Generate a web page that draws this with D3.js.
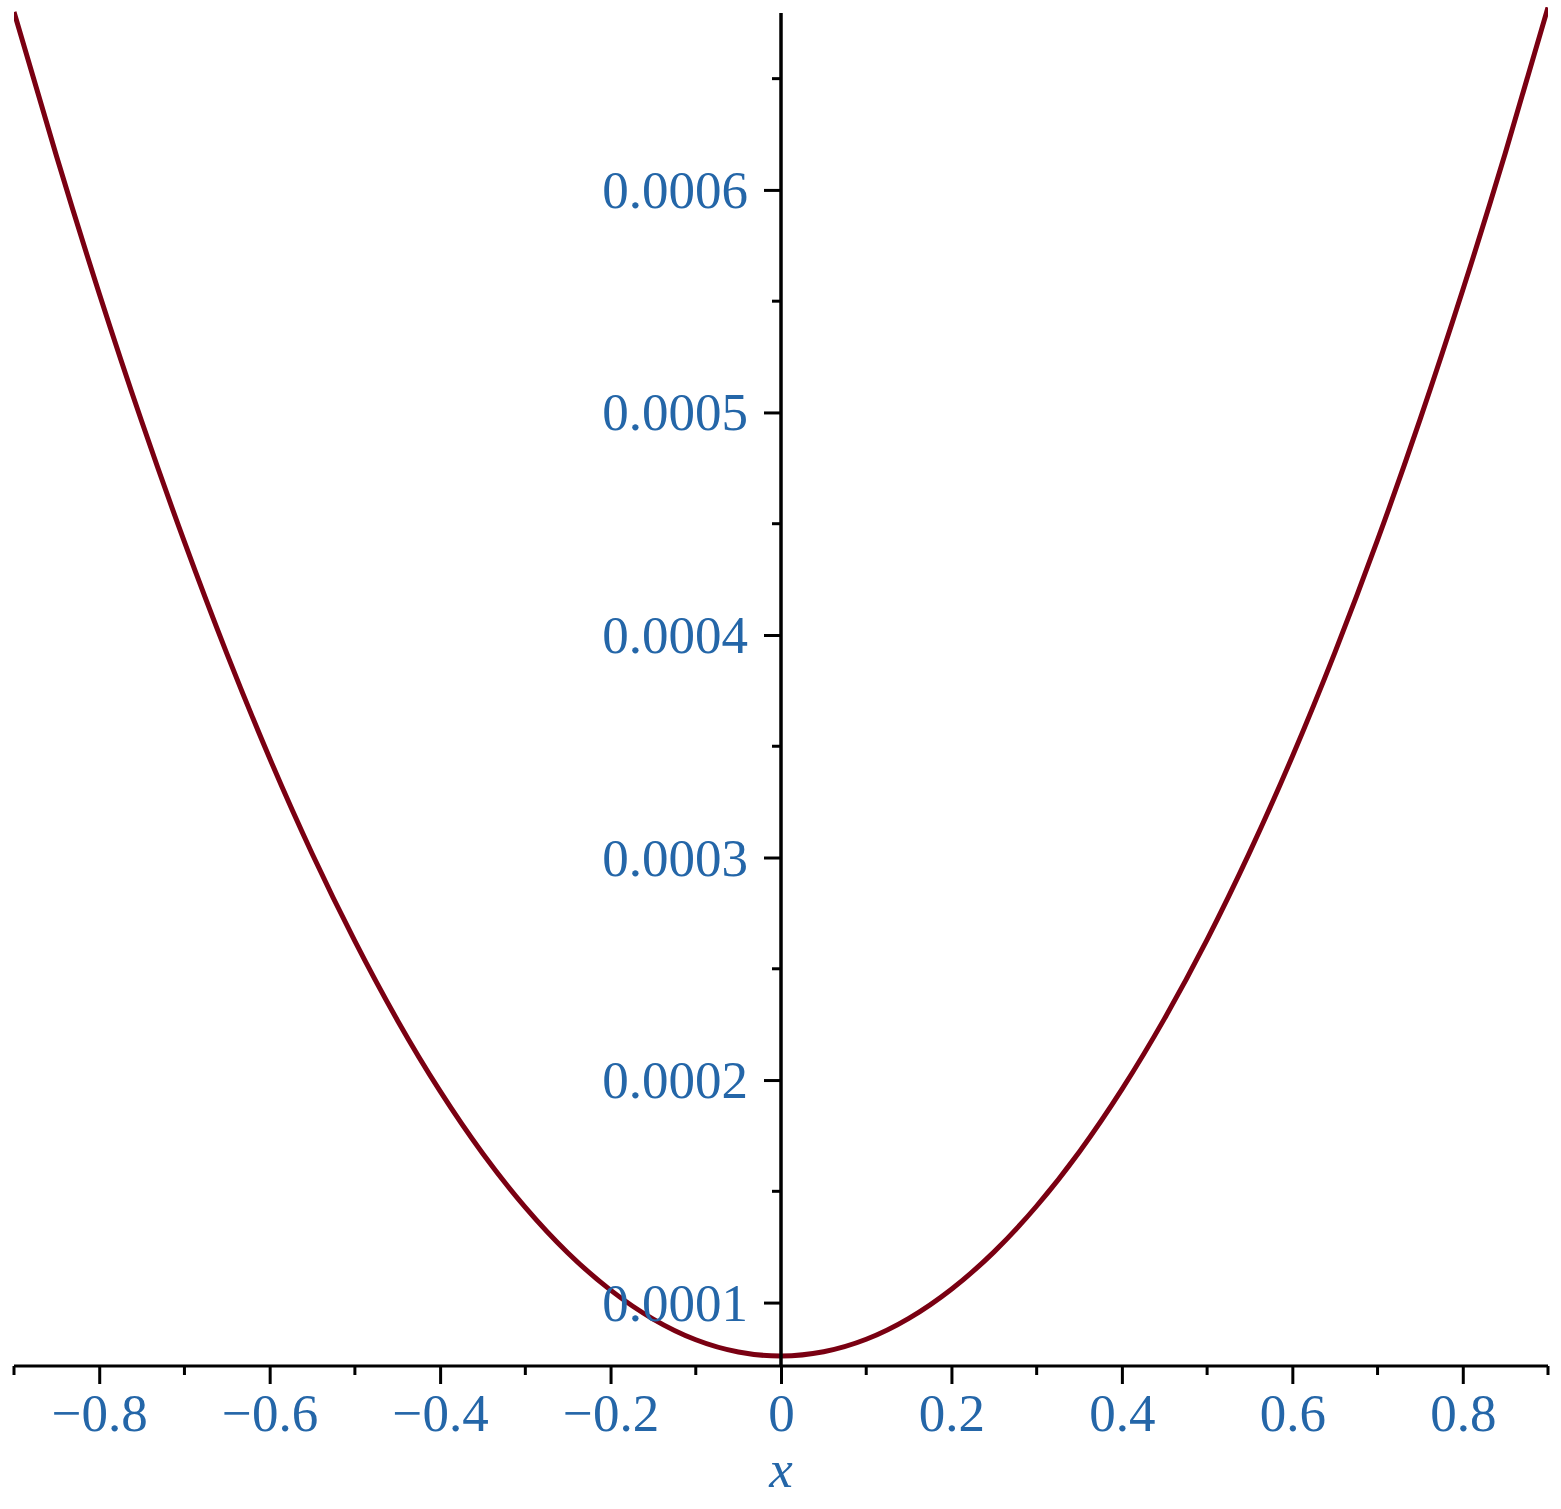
<!DOCTYPE html>
<html lang="en">
<head>
    <meta charset="UTF-8">
    <title>Parabola plot</title>
    <script src="https://d3js.org/d3.v7.min.js"></script>
    <style>
        body{ margin: 0; background: #fff; }
        svg{ display: block; }
        .tickLabel{
            font-family: "Liberation Serif", "Times New Roman", serif;
            font-size: 53px;
            fill: #2466a8;
        }
    </style>
</head>
<body>
<svg width="1561" height="1509"></svg>
<script>
    // values
    let xValues = [-0.9,-0.85,-0.8,-0.75,-0.7,-0.65,-0.6,-0.55,-0.5,-0.45,-0.4,-0.35,-0.3,-0.25,-0.2,-0.15,-0.1,-0.05,
                   0,0.05,0.1,0.15,0.2,0.25,0.3,0.35,0.4,0.45,0.5,0.55,0.6,0.65,0.7,0.75,0.8,0.85,0.9]
    let yValues = [0.0006800,0.0006150,0.0005535,0.0004958,0.0004418,0.0003914,0.0003446,0.0003016,0.0002624,0.0002268,0.0001950,0.0001670,0.0001428,0.0001223,0.0001056,0.0000926,0.0000833,0.0000778,
                   0.0000760,0.0000779,0.0000835,0.0000929,0.0001060,0.0001228,0.0001434,0.0001677,0.0001958,0.0002276,0.0002631,0.0003024,0.0003454,0.0003922,0.0004427,0.0004970,0.0005550,0.0006167,0.0006820]
    let xTicks = [-0.8,-0.6,-0.4,-0.2,0,0.2,0.4,0.6,0.8]
    let xMinor = [-0.9,-0.7,-0.5,-0.3,-0.1,0.1,0.3,0.5,0.7,0.9]
    let yTicks = [0.0001,0.0002,0.0003,0.0004,0.0005,0.0006]
    let yMinor = [0.00015,0.00025,0.00035,0.00045,0.00055,0.00065]

    let svg = d3.select('svg')
    let plot = {left:14, right:1548, top:13, bottom:1366}

    let xScale = d3.scaleLinear().domain([-0.9,0.9]).range([plot.left,plot.right])
    let yScale = d3.scaleLinear().domain([0.0000715,0.0006795]).range([plot.bottom,plot.top])

    let data = xValues.map(function (x,i){return {x:x, y:yValues[i]}})

    svg.append('clipPath').attr('id','clip')
        .append('rect')
        .attr('x',plot.left).attr('y',plot.top-6)
        .attr('width',plot.right-plot.left).attr('height',plot.bottom-plot.top+6)

    // curve
    let line = d3.line()
        .x(function (d){return xScale(d.x)})
        .y(function (d){return yScale(d.y)})
        .curve(d3.curveNatural)
    svg.append('path')
        .datum(data)
        .attr('clip-path','url(#clip)')
        .attr('d',line)
        .attr('fill','none')
        .attr('stroke','#7a0012')
        .attr('stroke-width',5)

    // x axis
    let x0 = xScale(0), y0 = yScale.range()[0]
    let xAxis = d3.axisBottom(xScale).tickValues(xTicks).tickSize(18).tickPadding(9)
        .tickFormat(function (d){return d===0 ? '0' : d3.format('.1f')(d).replace('-','\u2212 ')})
    let gx = svg.append('g').attr('transform','translate(0,'+y0+')').call(xAxis)
    gx.select('.domain').remove()
    gx.selectAll('.tick line').attr('stroke','#000').attr('stroke-width',3)
    gx.selectAll('.tick text').attr('class','tickLabel').attr('dy','0.71em')
    svg.append('g').selectAll('line').data(xMinor).enter().append('line')
        .attr('x1',function (d){return xScale(d)}).attr('x2',function (d){return xScale(d)})
        .attr('y1',y0).attr('y2',y0+9)
        .attr('stroke','#000').attr('stroke-width',3)
    svg.append('line')
        .attr('x1',plot.left).attr('x2',plot.right).attr('y1',y0).attr('y2',y0)
        .attr('stroke','#000').attr('stroke-width',3)

    // y axis
    let yAxis = d3.axisLeft(yScale).tickValues(yTicks).tickSize(17).tickPadding(16)
        .tickFormat(d3.format('.4f'))
    let gy = svg.append('g').attr('transform','translate('+x0+',0)').call(yAxis)
    gy.select('.domain').remove()
    gy.selectAll('.tick line').attr('stroke','#000').attr('stroke-width',3)
    gy.selectAll('.tick text').attr('class','tickLabel').attr('dy','0.33em')
    svg.append('g').selectAll('line').data(yMinor).enter().append('line')
        .attr('y1',function (d){return yScale(d)}).attr('y2',function (d){return yScale(d)})
        .attr('x1',x0-9).attr('x2',x0)
        .attr('stroke','#000').attr('stroke-width',3)
    svg.append('line')
        .attr('x1',x0).attr('x2',x0).attr('y1',plot.top).attr('y2',y0)
        .attr('stroke','#000').attr('stroke-width',3.5)

    // axis title
    svg.append('text')
        .attr('class','tickLabel')
        .attr('x',x0).attr('y',1487)
        .attr('text-anchor','middle')
        .style('font-style','italic')
        .text('x')
</script>
</body>
</html>
